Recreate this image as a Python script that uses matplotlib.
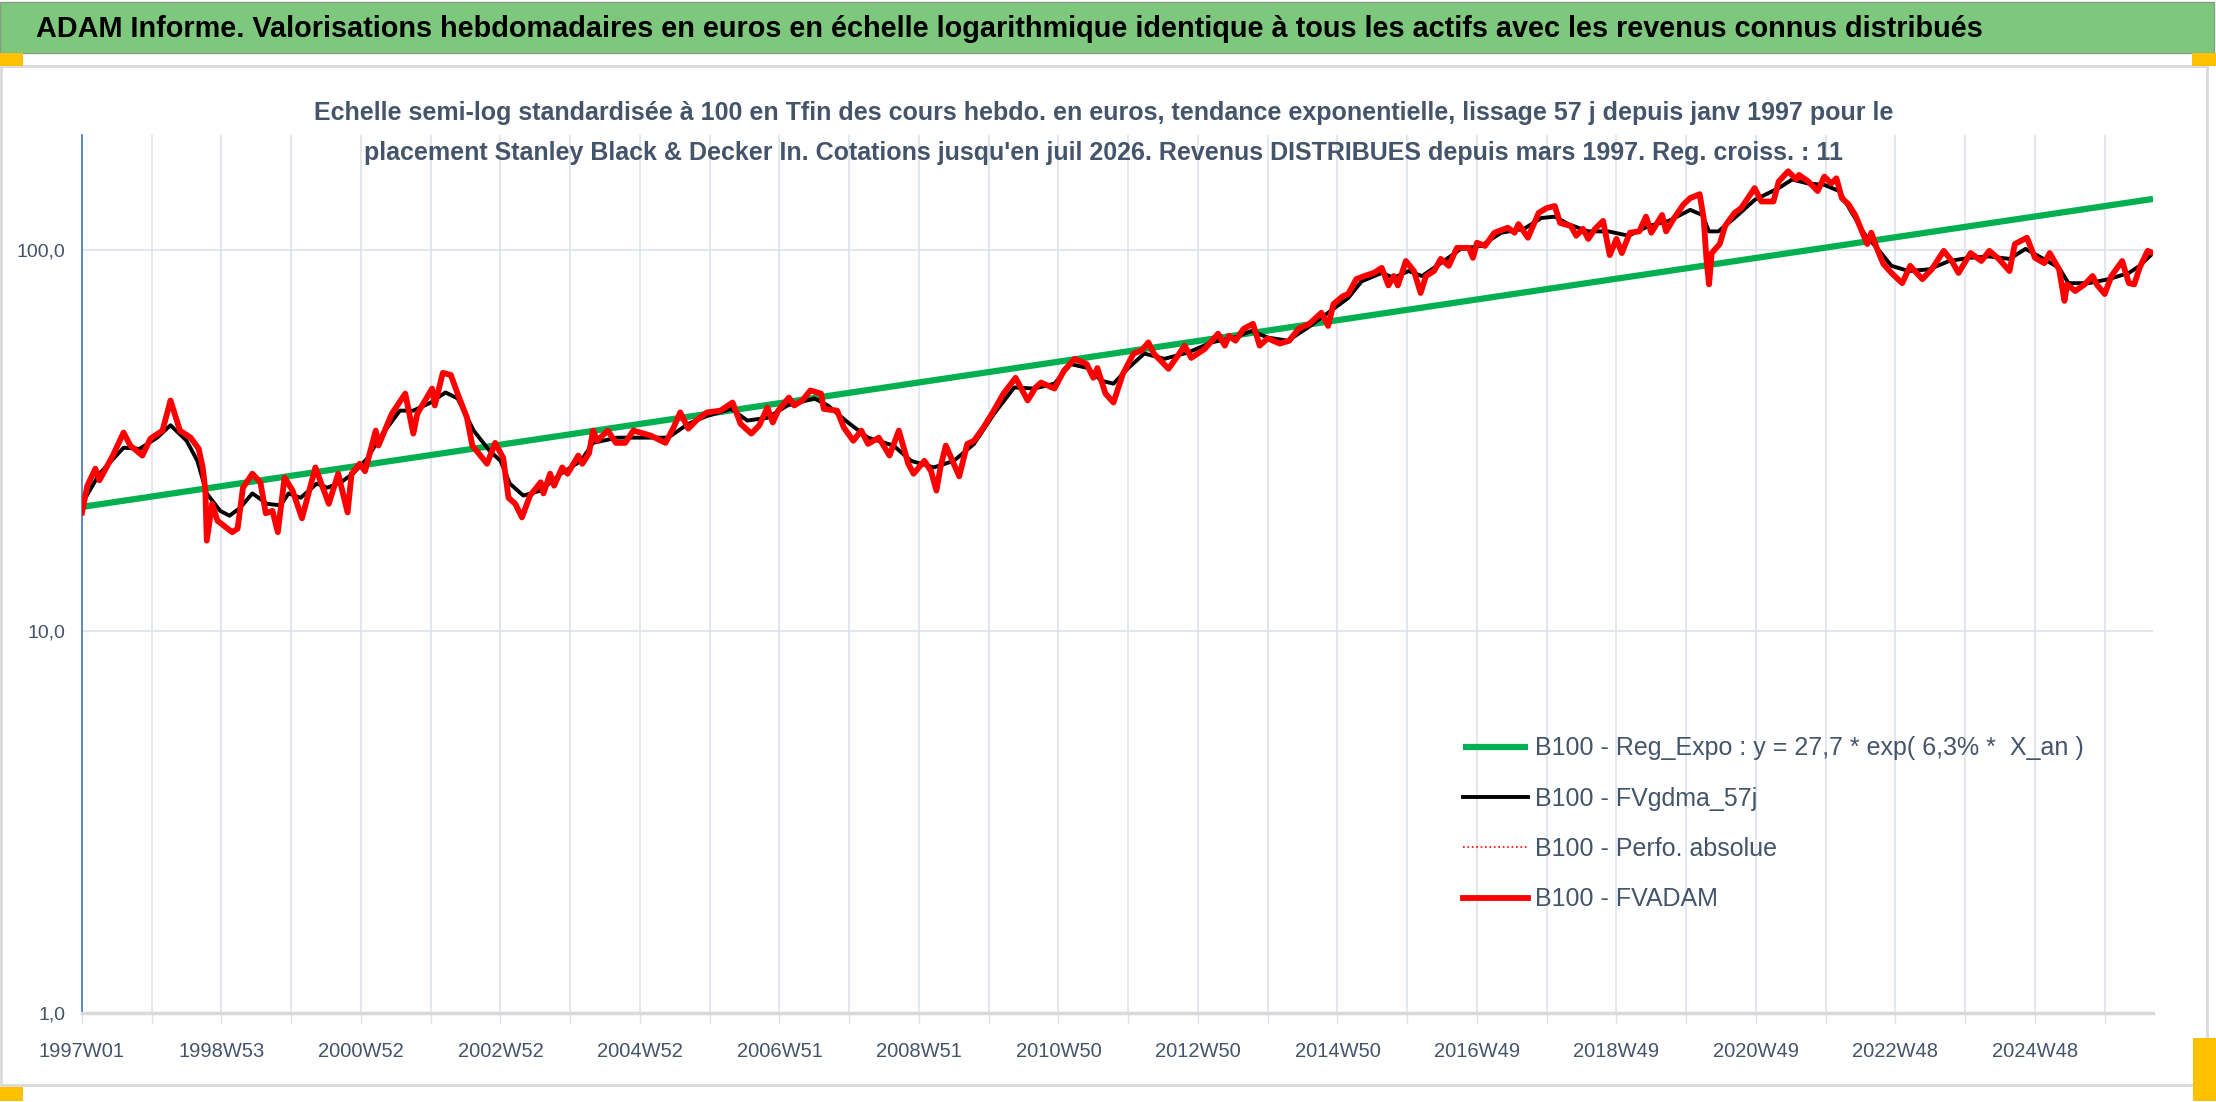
import matplotlib
matplotlib.use("Agg")
import matplotlib.pyplot as plt
from matplotlib.patches import Rectangle
from matplotlib.ticker import FixedLocator, FuncFormatter, NullLocator

# Données (indice de semaine depuis 1997W01, base 100)
semaines_fvadam = [0, 4, 10, 13, 23, 31, 36, 45, 51, 60, 66, 73, 81, 87, 90, 92, 93, 97, 101, 112,
                   116, 120, 127, 133, 137, 142, 146, 151, 157, 164, 174, 184, 191, 198, 201, 207, 211, 219, 221, 231,
                   241, 247, 250, 261, 263, 269, 275, 280, 287, 291, 302, 308, 314, 318, 323, 328, 334, 342, 344, 349,
                   352, 358, 362, 370, 373, 378, 381, 384, 392, 398, 405, 411, 424, 435, 441, 446, 452, 459, 466, 476,
                   485, 491, 499, 505, 511, 515, 519, 527, 531, 537, 543, 551, 553, 563, 568, 575, 581, 586, 594, 602,
                   609, 616, 620, 628, 633, 637, 640, 644, 649, 654, 660, 665, 672, 679, 687, 696, 705, 711, 715, 725,
                   732, 740, 749, 754, 757, 763, 769, 776, 784, 790, 795, 799, 810, 817, 822, 827, 837, 847, 852, 855,
                   860, 866, 873, 878, 884, 893, 900, 907, 915, 924, 929, 933, 940, 944, 950, 956, 963, 969, 974, 978,
                   981, 987, 993, 998, 1002, 1008, 1013, 1019, 1025, 1034, 1037, 1040, 1046, 1053, 1063, 1068, 1071, 1078, 1086, 1092,
                   1098, 1102, 1110, 1114, 1119, 1123, 1128, 1134, 1139, 1144, 1148, 1154, 1161, 1166, 1170, 1178, 1181, 1187, 1194, 1199,
                   1206, 1209, 1211, 1213, 1215, 1221, 1225, 1232, 1237, 1243, 1247, 1252, 1261, 1265, 1272, 1278, 1280, 1287, 1294, 1299,
                   1304, 1308, 1312, 1317, 1322, 1327, 1331, 1334, 1338, 1343, 1349, 1357, 1363, 1372, 1379, 1388, 1394, 1399, 1408, 1416,
                   1422, 1429, 1437, 1441, 1450, 1456, 1463, 1467, 1474, 1478, 1480, 1486, 1493, 1499, 1502, 1508, 1513, 1521, 1526, 1530,
                   1534, 1540, 1544]
fvadam = [20.5, 24.1, 26.7, 24.9, 28.9, 33.2, 30.7, 28.9, 32.0, 33.6, 40.3, 33.6, 32.2, 30.1, 26.9, 23.4, 17.3, 21.6, 19.5, 18.2,
          18.6, 23.8, 25.9, 24.6, 20.4, 20.7, 18.2, 25.3, 23.4, 19.8, 26.9, 21.6, 25.9, 20.5, 25.9, 27.5, 26.3, 33.6, 30.7, 37.2,
          42.0, 33.0, 37.2, 43.3, 39.1, 47.6, 47.0, 42.0, 36.3, 30.7, 27.5, 31.2, 28.5, 22.4, 21.6, 19.9, 22.7, 24.6, 23.0, 25.9,
          24.1, 26.9, 25.9, 28.9, 27.5, 29.3, 33.6, 31.6, 33.6, 31.2, 31.2, 33.6, 32.6, 31.2, 34.2, 37.5, 34.0, 36.0, 37.5, 37.9,
          39.8, 35.0, 33.0, 34.7, 38.6, 35.3, 37.9, 41.0, 39.1, 40.3, 42.8, 42.0, 38.3, 37.9, 34.2, 31.6, 33.6, 31.0, 32.2, 28.9,
          33.6, 27.5, 25.9, 28.0, 26.3, 23.4, 26.9, 30.7, 28.0, 25.5, 31.0, 31.6, 34.2, 37.5, 42.0, 46.2, 40.3, 43.6, 44.9, 43.3,
          48.2, 51.8, 50.2, 46.2, 49.0, 42.0, 39.8, 47.3, 53.5, 54.5, 57.2, 53.5, 48.8, 52.8, 56.1, 52.1, 55.0, 60.3, 56.1, 59.5,
          57.8, 62.1, 64.0, 56.1, 58.6, 56.8, 57.8, 62.1, 64.0, 68.4, 63.2, 72.1, 75.6, 76.6, 83.8, 85.4, 87.0, 89.7, 80.7, 85.4,
          80.7, 93.5, 88.0, 77.1, 85.4, 88.0, 94.7, 90.8, 101.2, 101.2, 95.3, 104.4, 102.4, 110.9, 114.3, 110.9, 116.8, 107.6, 125.0, 128.7,
          130.3, 117.6, 115.5, 108.9, 113.5, 106.8, 113.5, 119.1, 96.9, 106.8, 98.1, 110.9, 111.8, 122.2, 110.9, 123.4, 111.8, 121.2, 131.6, 136.7,
          139.9, 121.2, 95.3, 81.2, 98.1, 103.6, 115.5, 125.0, 128.7, 138.3, 145.2, 133.9, 133.9, 151.1, 160.7, 152.9, 157.2, 151.1, 142.6, 155.6,
          149.2, 154.0, 136.7, 131.6, 123.4, 111.8, 103.6, 110.9, 101.2, 91.8, 87.0, 81.8, 90.8, 83.8, 88.9, 99.4, 93.5, 87.0, 98.1, 93.5,
          99.4, 94.7, 88.0, 103.6, 107.6, 95.3, 92.3, 98.1, 88.9, 73.5, 81.2, 78.0, 81.2, 85.4, 81.2, 76.6, 85.4, 93.5, 81.8, 81.2,
          89.7, 99.4, 98.1]

semaines_gdma = [0, 13, 31, 43, 56, 66, 78, 86, 93, 103, 110, 118, 127, 138, 148, 154, 163, 175, 183, 193,
                 202, 213, 222, 237, 247, 260, 271, 280, 292, 304, 312, 319, 329, 342, 357, 372, 381, 399, 424, 437,
                 452, 466, 484, 496, 511, 526, 546, 556, 571, 586, 605, 618, 635, 650, 665, 680, 695, 710, 725, 737,
                 750, 760, 769, 780, 792, 807, 825, 842, 859, 872, 884, 899, 914, 929, 944, 954, 969, 978, 989, 999,
                 1013, 1028, 1043, 1058, 1075, 1088, 1098, 1108, 1123, 1138, 1153, 1168, 1183, 1199, 1208, 1213, 1220, 1232, 1247, 1265,
                 1275, 1287, 1299, 1310, 1319, 1329, 1340, 1349, 1362, 1377, 1392, 1407, 1422, 1437, 1449, 1461, 1474, 1481, 1496, 1511,
                 1526, 1534, 1544]
fvgdma = [21.6, 25.9, 30.3, 30.1, 32.2, 34.7, 31.6, 28.0, 23.0, 20.7, 20.1, 21.1, 23.0, 21.6, 21.4, 23.0, 22.4, 24.4, 23.8, 24.6,
          25.9, 28.5, 32.2, 37.9, 37.9, 39.8, 42.3, 40.8, 33.6, 29.7, 28.0, 24.4, 22.7, 23.4, 25.9, 28.0, 31.2, 32.2, 32.2, 32.2,
          35.0, 36.7, 38.3, 35.7, 36.3, 39.1, 40.8, 39.1, 35.3, 32.2, 30.7, 28.0, 26.9, 28.0, 31.0, 37.2, 43.6, 43.3, 44.6, 50.2,
          49.0, 45.4, 44.6, 49.0, 53.5, 51.8, 53.9, 57.2, 58.9, 61.3, 58.9, 57.8, 62.6, 68.4, 74.8, 82.7, 87.0, 84.5, 88.0, 85.4,
          92.3, 100.6, 102.4, 110.9, 113.5, 121.2, 122.2, 116.8, 111.8, 111.8, 108.9, 115.5, 119.1, 127.3, 123.4, 111.8, 111.8, 121.2, 135.2, 145.2,
          152.9, 149.2, 148.0, 142.6, 126.0, 110.0, 99.4, 90.8, 88.0, 88.9, 93.5, 95.3, 96.1, 94.7, 100.6, 95.3, 89.7, 81.8, 81.8, 83.8,
          87.0, 90.8, 98.1]

# Tendance exponentielle (extrémités)
semaines_reg = [0, 1544]
reg_expo = [21.2, 136.0]

etiquettes_x = ['1997W01', '1998W53', '2000W52', '2002W52', '2004W52', '2006W51', '2008W51', '2010W50',
                '2012W50', '2014W50', '2016W49', '2018W49', '2020W49', '2022W48', '2024W48']
nb_semaines = 1545

W, H = 2216, 1102
polices = ['Liberation Sans Narrow', 'Liberation Sans', 'DejaVu Sans']
plt.rcParams['font.family'] = polices
gris_texte = '#44546a'
gris_grille = '#dde2ea'

fig = plt.figure(figsize=(W / 100, H / 100), dpi=100)
fig.patch.set_facecolor('white')

def rect(x0, y0, x1, y1, **kw):
    # rectangle en pixels (origine en haut à gauche)
    fig.add_artist(Rectangle((x0 / W, 1 - y1 / H), (x1 - x0) / W, (y1 - y0) / H,
                             transform=fig.transFigure, zorder=-5, **kw))

# Bandeau du titre
rect(0, 2, 2214, 53, facecolor='#7ec87e', edgecolor='#8a9a8a', linewidth=1)
# Cadre du graphique
rect(1, 66, 2207, 1085, facecolor='white', edgecolor='#d9d9d9', linewidth=2)
# Petits carrés orange
rect(0, 53, 23, 66, facecolor='#ffc000', edgecolor='none')
rect(2192, 53, 2216, 66, facecolor='#ffc000', edgecolor='none')
rect(0, 1087, 23, 1101, facecolor='#ffc000', edgecolor='none')
rect(2193, 1038, 2216, 1101, facecolor='#ffc000', edgecolor='none')

fig.text(36 / W, 1 - 29 / H,
         "ADAM Informe. Valorisations hebdomadaires en euros en échelle logarithmique identique à tous les actifs avec les revenus connus distribués",
         ha='left', va='center', fontsize=20.8, fontweight='bold', color='black', zorder=10)
fig.text(1104 / W, 1 - 113 / H,
         "Echelle semi-log standardisée à 100 en Tfin des cours hebdo. en euros, tendance exponentielle, lissage 57 j depuis janv 1997 pour le",
         ha='center', va='center', fontsize=18, fontweight='bold', color=gris_texte, zorder=10)
fig.text(1104 / W, 1 - 153 / H,
         "placement Stanley Black & Decker In. Cotations jusqu'en juil 2026. Revenus DISTRIBUES depuis mars 1997. Reg. croiss. : 11",
         ha='center', va='center', fontsize=18, fontweight='bold', color=gris_texte, zorder=10)

ax = fig.add_axes([82 / W, 1 - 1013 / H, (2153 - 82) / W, (1013 - 135) / H])
ax.set_zorder(5)
ax.set_facecolor('none')

ax.plot(semaines_reg, reg_expo, color='#00b050', linewidth=4.5, solid_capstyle='butt',
        label='B100 - Reg_Expo : y = 27,7 * exp( 6,3% *  X_an )', zorder=3)
ax.plot(semaines_gdma, fvgdma, color='black', linewidth=2.8, label='B100 - FVgdma_57j', zorder=4)
ax.plot(semaines_fvadam, fvadam, color='red', linewidth=1.2, linestyle=':', label='B100 - Perfo. absolue', zorder=5)
ax.plot(semaines_fvadam, fvadam, color='red', linewidth=4.2, label='B100 - FVADAM', zorder=6)

ax.set_yscale('log')
ax.set_ylim(1, 200)
ax.set_xlim(0, nb_semaines - 1)

ax.yaxis.set_major_locator(FixedLocator([1, 10, 100]))
ax.yaxis.set_minor_locator(NullLocator())
ax.yaxis.set_major_formatter(FuncFormatter(lambda v, p: f"{v:.1f}".replace('.', ',')))
ax.tick_params(axis='y', length=0, labelsize=14, labelcolor=gris_texte, pad=12)

ax.xaxis.set_major_locator(FixedLocator(list(range(0, nb_semaines, 104))))
ax.xaxis.set_minor_locator(FixedLocator(list(range(52, nb_semaines, 104))))
ax.set_xticklabels(etiquettes_x)
ax.tick_params(axis='x', which='both', direction='out', length=7, width=1, color=gris_grille,
               labelsize=14.5, labelcolor=gris_texte, pad=14)

ax.grid(True, which='both', axis='x', color=gris_grille, linewidth=1.2)
ax.grid(True, which='major', axis='y', color=gris_grille, linewidth=1.2)
ax.set_axisbelow(True)

for s in ['top', 'right']:
    ax.spines[s].set_visible(False)
ax.spines['left'].set_color('#4472c4')
ax.spines['left'].set_linewidth(1.2)
ax.spines['bottom'].set_color('#d9d9d9')
ax.spines['bottom'].set_linewidth(2.5)

leg = ax.legend(loc='upper left', bbox_to_anchor=(1446 / W, 1 - 719 / H), bbox_transform=fig.transFigure,
                frameon=False, fontsize=18, handlelength=2.6, handletextpad=0.25, labelspacing=1.05,
                labelcolor=gris_texte, borderpad=0.2)

fig.savefig('out.png', dpi=100)
